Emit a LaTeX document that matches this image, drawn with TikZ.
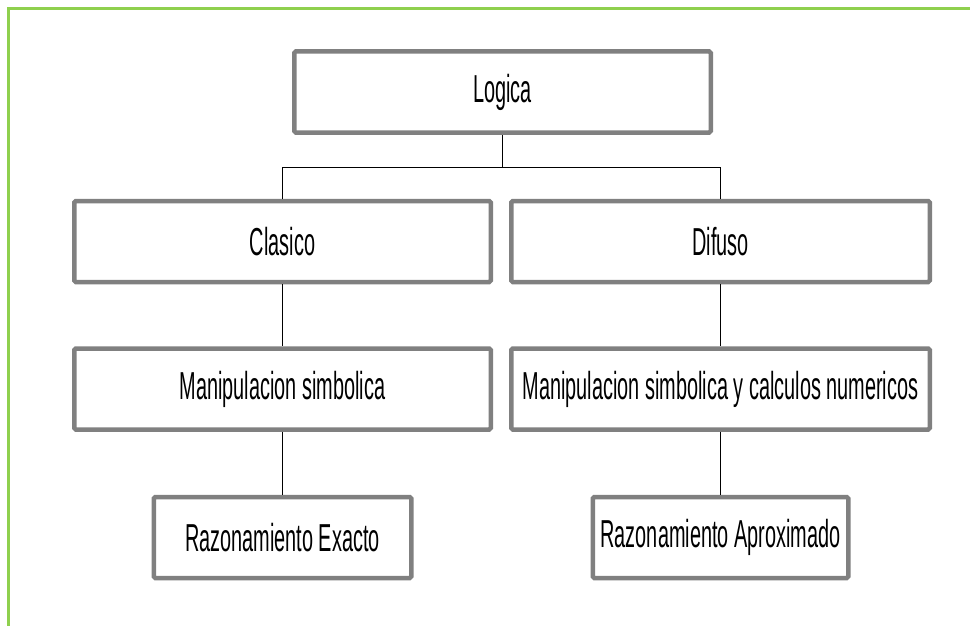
\documentclass[tikz,border=0pt]{standalone}
\usepackage{fontspec}
\usepackage{xcolor}
\usepackage{tikz}
\newfontfamily\boxfont[FakeStretch=0.51]{Liberation Sans}
\definecolor{boxgray}{HTML}{808080}
\definecolor{framegreen}{HTML}{8FD04E}
\tikzstyle{process} = [rectangle, draw=boxgray, line width=4.5pt, rounded corners=1.5pt, minimum width=416.5pt, minimum height=81pt, text centered, inner sep=0pt, font=\boxfont\fontsize{39}{40}\selectfont]
\tikzstyle{line} = [line width=1pt, black]

\begin{document}
\begin{tikzpicture}[x=1pt, y=1pt, node distance=148pt]
    \tikzset{frame/.style = {draw=framegreen, line width=3pt}}
\useasboundingbox (0,0) rectangle (970,-626);
\draw [frame] (8.5,-626) -- (8.5,-8.5) -- (970,-8.5);

\node (logica) [process] at (502.5,-92) {Logica};
\coordinate [below of=logica, node distance=75pt] (cont);
\coordinate [left of=cont, node distance=220pt] (ajoint);
\coordinate [right of=cont, node distance=218pt] (bjoint);
\node (clasico) [process, node distance=74.5pt, below of=ajoint] {Clasico};
\node (difuso) [process, minimum width=418.5pt, node distance=74.5pt, below of=bjoint] {Difuso};
\draw [line] (logica) -- (cont);
\draw [line] (ajoint) -- (bjoint);
\draw [line] (ajoint) -- (clasico);
\draw [line] (bjoint) -- (difuso);

\node (simb) [process, node distance=147.5pt, below of=clasico] {Manipulacion simbolica};
\node (simbnum) [process, minimum width=418.5pt, node distance=147.5pt, below of=difuso] {Manipulacion simbolica y calculos numericos};
\draw [line] (clasico) -- (simb);
\draw [line] (difuso) -- (simbnum);

\node (exacto) [process, minimum width=257.5pt, node distance=148.5pt, below of=simb] {Razonamiento Exacto};
\node (aprox) [process, minimum width=255.5pt, node distance=148.5pt, below of=simbnum] {Razonamiento Aproximado};
\draw [line] (simb) -- (exacto);
\draw [line] (simbnum) -- (aprox);

\end{tikzpicture}
\end{document}
